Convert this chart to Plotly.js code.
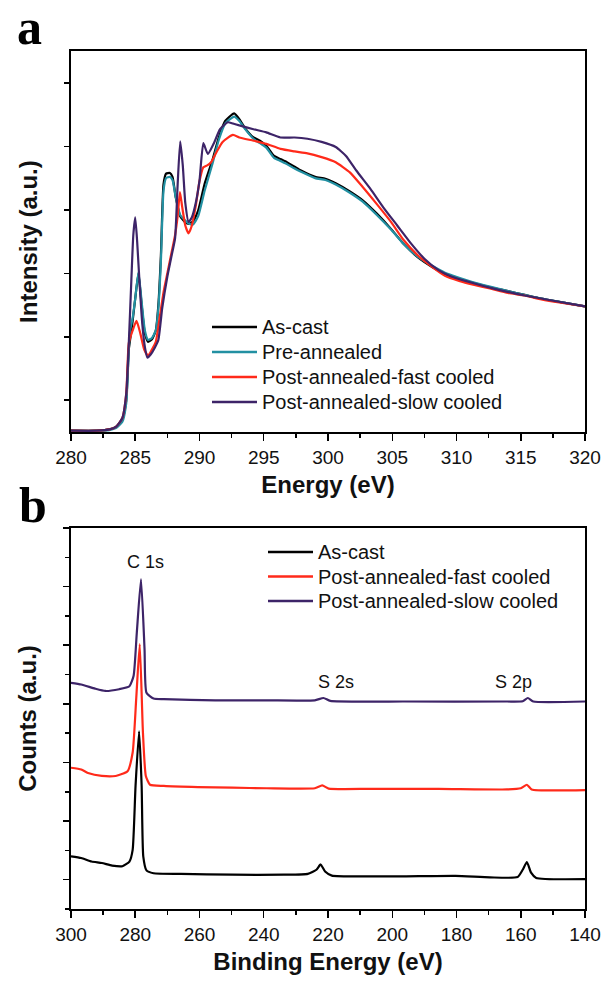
<!DOCTYPE html>
<html>
<head>
<meta charset="utf-8">
<script src="https://cdn.plot.ly/plotly-3.0.1.min.js"></script>
<style>html,body{margin:0;padding:0;background:#fff;}#chart{width:604px;height:984px;}</style>
</head>
<body>
<div id="chart"></div>
<script>
// ---------- Panel a: NEXAFS (Energy vs Intensity) ----------
const asCastE = [280,282,283,283.5,284,284.3,284.5,284.6,284.8,285.0,285.25,285.5,285.75,286.0,286.3,286.6,286.8,287.0,287.2,287.4,287.7,287.9,288.15,288.5,288.9,289.2,289.5,289.9,290.4,291,291.5,292,292.7,293.1,293.6,294.2,294.7,295.2,295.8,296.3,296.8,297.4,297.9,299,299.8,300.6,301.7,302.7,303.8,304.9,305.9,307,308.1,309.1,310.2,311.3,312.6,314,315.3,316.6,318,320];
const asCastI = [0.02,0.02,0.04,0.08,0.2,0.5,1.3,1.45,1.75,2.1,2.5,2.0,1.55,1.42,1.46,1.6,2.0,2.8,3.9,4.07,4.08,4.02,3.7,3.4,3.3,3.28,3.32,3.49,3.91,4.28,4.64,4.9,5.02,4.93,4.77,4.64,4.59,4.51,4.35,4.30,4.25,4.18,4.12,4.02,3.99,3.92,3.79,3.65,3.44,3.2,2.96,2.75,2.6,2.49,2.41,2.35,2.28,2.22,2.16,2.10,2.05,1.98];
const preE = asCastE;
const preI = [0.02,0.02,0.03,0.06,0.16,0.45,1.3,1.6,1.8,2.1,2.52,2.05,1.6,1.45,1.48,1.6,1.95,2.7,3.8,4.0,4.02,3.97,3.7,3.42,3.33,3.28,3.27,3.4,3.8,4.22,4.6,4.86,4.97,4.9,4.76,4.62,4.55,4.48,4.32,4.27,4.22,4.15,4.1,4.0,3.97,3.9,3.77,3.63,3.42,3.19,2.96,2.76,2.62,2.51,2.43,2.36,2.29,2.22,2.16,2.10,2.05,1.98];
const fastE = [280,282,283,283.5,284,284.3,284.5,284.8,285.1,285.4,285.7,286.0,286.3,286.6,286.9,287.2,287.5,287.8,288.1,288.3,288.48,288.65,288.9,289.15,289.4,289.7,290.0,290.3,290.6,290.9,291.3,291.8,292.6,293.1,294.2,295.2,296.3,297.4,298.4,299.5,300.6,301.7,302.7,303.8,304.9,305.9,307,308.1,309.1,310.2,311.3,312.6,314,315.3,316.6,318,320];
const fastI = [0.02,0.02,0.04,0.08,0.22,0.6,1.4,1.6,1.75,1.55,1.3,1.2,1.3,1.42,1.8,2.2,2.5,2.8,3.1,3.4,3.78,3.55,3.25,3.13,3.25,3.55,3.95,4.17,4.2,4.25,4.4,4.57,4.68,4.64,4.59,4.54,4.46,4.42,4.39,4.33,4.25,4.09,3.86,3.59,3.31,3.02,2.78,2.6,2.46,2.38,2.32,2.26,2.19,2.15,2.09,2.04,1.98];
const slowE = [280,282,283,283.5,284,284.3,284.5,284.7,284.85,285.0,285.15,285.35,285.55,285.75,285.95,286.2,286.5,286.8,287.1,287.5,287.8,288.1,288.3,288.5,288.7,288.9,289.15,289.4,289.7,290.0,290.3,290.65,291.1,291.6,292.2,292.6,293.1,294.2,295.2,296.3,297.4,298.4,299.5,300.6,301.4,302.2,303.3,304.3,305.4,306.5,307.5,308.6,309.6,310.7,312.1,313.7,315.3,317.2,320];
const slowI = [0.02,0.02,0.04,0.08,0.22,0.6,1.4,2.4,3.1,3.38,3.0,2.3,1.7,1.34,1.17,1.22,1.32,1.45,1.95,2.45,2.75,3.05,3.9,4.58,4.2,3.6,3.31,3.38,3.6,3.96,4.55,4.38,4.54,4.77,4.88,4.86,4.83,4.77,4.72,4.64,4.64,4.62,4.57,4.49,4.35,4.12,3.83,3.54,3.25,2.96,2.73,2.55,2.45,2.38,2.3,2.22,2.15,2.08,1.98];

// ---------- Panel b: XPS survey (Binding energy vs Counts) ----------
const castBE = [300,296.8,293.6,290.4,287.2,284,281.8,280.8,279.9,278.8,278.0,277.5,276.5,274.3,265.8,249.8,233.7,226.3,223.6,222.3,220.9,218.8,207,196.3,180.3,169.6,161,159.4,158.1,156.8,155.2,140];
const castC  = [0.40,0.37,0.31,0.285,0.24,0.23,0.31,0.51,1.6,2.53,1.6,0.4,0.16,0.11,0.10,0.085,0.085,0.10,0.17,0.26,0.14,0.07,0.057,0.057,0.065,0.04,0.045,0.17,0.30,0.12,0.03,0.01];
const fastBE = [300,296.8,294.7,290.4,286.1,282.4,280.8,279.7,278.6,277.6,276.7,275.4,271.1,260.5,249.8,239.1,224.1,221.8,219.8,207,185.6,164.3,160,158.1,156.6,140];
const fastC  = [1.91,1.88,1.82,1.77,1.77,1.85,2.17,3.08,4.02,2.51,1.77,1.62,1.60,1.58,1.57,1.56,1.56,1.61,1.555,1.55,1.55,1.54,1.56,1.62,1.54,1.53];
const slowBE = [300,296.8,292.5,289.3,285,281.8,280.5,279.5,278.2,277.1,276.5,274.3,271.1,255.1,239.1,224.1,221.4,219.3,196.3,164.3,159.4,157.8,156.1,140];
const slowC  = [3.36,3.33,3.26,3.22,3.25,3.30,3.48,4.22,5.13,3.93,3.19,3.09,3.08,3.06,3.06,3.06,3.10,3.05,3.04,3.04,3.045,3.10,3.04,3.04];

const namesA = ['As-cast','Pre-annealed','Post-annealed-fast cooled','Post-annealed-slow cooled'];
const namesB = ['As-cast','Post-annealed-fast cooled','Post-annealed-slow cooled'];
const peakLabels = ['C 1s','S 2s','S 2p'];
const peakX = [276.8,217.4,162.4];
const peakY = [5.42,3.37,3.38];

const cBlack = '#000000', cTeal = '#2290a2', cRed = '#ff2a1a', cPurple = '#3d2468';
const colorsA = [cBlack, cTeal, cRed, cPurple];
const colorsB = [cBlack, cRed, cPurple];
const FONT = 'Liberation Sans, Arial, sans-serif';

function tr(x, y, name, color, xa, ya) {
  return {x: x, y: y, name: name, type: 'scatter', mode: 'lines',
    line: {color: color, width: 2.2, shape: 'spline', smoothing: 0.5},
    xaxis: xa, yaxis: ya, showlegend: false, hoverinfo: 'skip'};
}

const data = [
  tr(asCastE, asCastI, namesA[0], cBlack, 'x', 'y'),
  tr(preE, preI, namesA[1], cTeal, 'x', 'y'),
  tr(fastE, fastI, namesA[2], cRed, 'x', 'y'),
  tr(slowE, slowI, namesA[3], cPurple, 'x', 'y'),
  tr(castBE, castC, namesB[0], cBlack, 'x2', 'y2'),
  tr(fastBE, fastC, namesB[1], cRed, 'x2', 'y2'),
  tr(slowBE, slowC, namesB[2], cPurple, 'x2', 'y2')
];

// legend (drawn as paper-positioned keys + real text)
const W = 604, H = 984;
const px = v => v / W, py = v => 1 - v / H;
const shapes = [], annotations = [];
function addLegend(names, colors, x0, x1, tx, rows) {
  names.forEach((n, i) => {
    shapes.push({type: 'line', xref: 'paper', yref: 'paper', x0: px(x0), x1: px(x1), y0: py(rows[i]), y1: py(rows[i]),
      line: {color: colors[i], width: 2.4}});
    annotations.push({text: n, xref: 'paper', yref: 'paper', x: px(tx), y: py(rows[i]), xanchor: 'left', yanchor: 'middle',
      showarrow: false, font: {family: FONT, size: 20, color: '#111'}});
  });
}
addLegend(namesA, colorsA, 212, 257, 260, [327, 352, 377, 402]);
addLegend(namesB, colorsB, 268, 313, 316, [552, 576.5, 601]);

annotations.push(
  {text: 'a', xref: 'paper', yref: 'paper', x: px(30), y: py(27), xanchor: 'center', yanchor: 'middle', showarrow: false,
    font: {family: 'Liberation Serif, Times New Roman, serif', size: 50, weight: 'bold', color: '#000'}},
  {text: 'b', xref: 'paper', yref: 'paper', x: px(33), y: py(505), xanchor: 'center', yanchor: 'middle', showarrow: false,
    font: {family: 'Liberation Serif, Times New Roman, serif', size: 50, weight: 'bold', color: '#000'}}
);
peakLabels.forEach((t, i) => annotations.push({text: t, xref: 'x2', yref: 'y2', x: peakX[i], y: peakY[i],
  xanchor: 'center', yanchor: 'middle', showarrow: false, font: {family: FONT, size: 18, color: '#111'}}));

const axisCommon = {showline: true, linewidth: 2, linecolor: '#000', mirror: true,
  showgrid: false, zeroline: false, ticks: 'outside', tickwidth: 1.5, tickcolor: '#000',
  tickfont: {family: FONT, size: 19, color: '#111'}};
const titleFont = {family: FONT, size: 24, weight: 'bold', color: '#111'};

const layout = {
  width: W, height: H,
  margin: {l: 0, r: 0, t: 0, b: 0},
  paper_bgcolor: '#fff', plot_bgcolor: '#fff',
  showlegend: false,
  xaxis: Object.assign({}, axisCommon, {
    domain: [0.1175, 0.9686], anchor: 'y', range: [280, 320], tick0: 280, dtick: 5, ticklen: 7,
    minor: {dtick: 2.5, ticks: 'outside', ticklen: 4, tickwidth: 1.5, tickcolor: '#000'},
    title: {text: 'Energy (eV)', standoff: 9, font: titleFont}
  }),
  yaxis: Object.assign({}, axisCommon, {
    domain: [0.561, 0.948], anchor: 'x', range: [0, 6], tick0: 0.5, dtick: 1, ticklen: 5,
    showticklabels: false,
    title: {text: 'Intensity (a.u.)', standoff: 20, font: titleFont}
  }),
  xaxis2: Object.assign({}, axisCommon, {
    domain: [0.1175, 0.9686], anchor: 'y2', range: [300, 140], tick0: 140, dtick: 20, ticklen: 7,
    minor: {dtick: 10, ticks: 'outside', ticklen: 4, tickwidth: 1.5, tickcolor: '#000'},
    title: {text: 'Binding Energy (eV)', standoff: 9, font: titleFont}
  }),
  yaxis2: Object.assign({}, axisCommon, {
    domain: [0.0762, 0.4634], anchor: 'x2', range: [-0.5, 6], tick0: 0, dtick: 1, ticklen: 6,
    minor: {dtick: 0.5, ticks: 'outside', ticklen: 4, tickwidth: 1.5, tickcolor: '#000'},
    showticklabels: false,
    title: {text: 'Counts (a.u.)', standoff: 20, font: titleFont}
  }),
  shapes: shapes,
  annotations: annotations
};

Plotly.newPlot('chart', data, layout, {staticPlot: true, displayModeBar: false});
</script>
</body>
</html>
